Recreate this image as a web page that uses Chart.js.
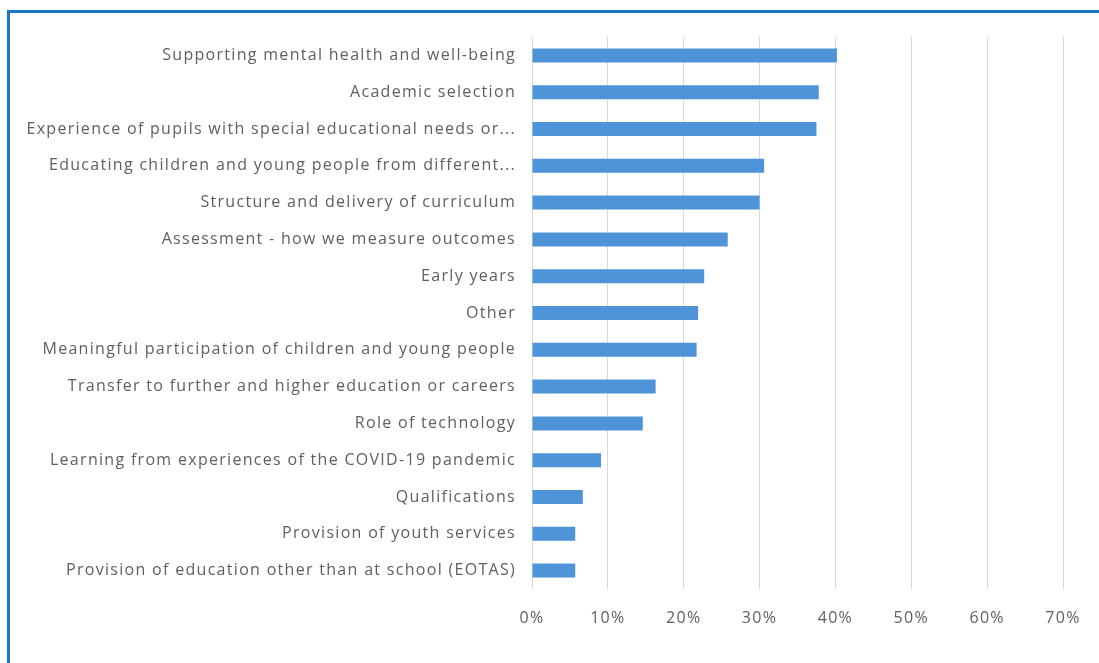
<!DOCTYPE html>
<html>
<head>
<meta charset="utf-8">
<script src="https://cdn.jsdelivr.net/npm/chart.js@4.4.1/dist/chart.umd.min.js"></script>
<style>
  html, body { margin: 0; padding: 0; background: #fff; }
  #wrap { position: relative; width: 1099px; height: 663px; overflow: hidden; }
  #frame { position: absolute; left: 7px; top: 10px; right: -10px; bottom: -10px;
           border-left: 3px solid #1b76c9; border-top: 3px solid #1b76c9; }
  canvas { position: absolute; left: 0; top: 0; }
</style>
</head>
<body>
<div id="wrap">
  <div id="frame"></div>
  <canvas id="chart" width="1099" height="663"></canvas>
</div>
<script>
// Topics, in the order they appear top to bottom
const topics = [
  "Supporting mental health and well-being",
  "Academic selection",
  "Experience of pupils with special educational needs or...",
  "Educating children and young people from different...",
  "Structure and delivery of curriculum",
  "Assessment - how we measure outcomes",
  "Early years",
  "Other",
  "Meaningful participation of children and young people",
  "Transfer to further and higher education or careers",
  "Role of technology",
  "Learning from experiences of the COVID-19 pandemic",
  "Qualifications",
  "Provision of youth services",
  "Provision of education other than at school (EOTAS)"
];

// Share of responses (%)
const shares = [40.2, 37.8, 37.5, 30.6, 30.0, 25.8, 22.7, 21.9, 21.7, 16.3, 14.6, 9.1, 6.7, 5.7, 5.7];

const xMax = 70;
const xStep = 10;

const textColor = "#5f5f5f";
const gridColor = "#d9d9d9";
const barColor = "#4f93d8";
const font = { family: "'Open Sans', sans-serif", size: 16 };

// loosen the letter spacing of all drawn text
const spacing = {
  id: "spacing",
  beforeDraw(chart) { chart.ctx.letterSpacing = "1.3px"; }
};

const ctx = document.getElementById("chart").getContext("2d");
new Chart(ctx, {
  type: "bar",
  data: {
    labels: topics,
    datasets: [{
      data: shares,
      backgroundColor: barColor,
      borderWidth: 0,
      barPercentage: 0.38,
      categoryPercentage: 1
    }]
  },
  plugins: [spacing],
  options: {
    indexAxis: "y",
    responsive: false,
    animation: false,
    layout: { padding: { top: 37, right: 36, bottom: 0, left: 0 } },
    plugins: {
      legend: { display: false },
      tooltip: { enabled: false }
    },
    scales: {
      x: {
        min: 0,
        max: xMax,
        grid: { color: gridColor, lineWidth: 1, drawTicks: false },
        border: { display: false },
        ticks: {
          stepSize: xStep,
          color: textColor,
          font: font,
          padding: 20,
          callback: v => v + "%"
        },
        afterFit: s => { s.height = 74; }
      },
      y: {
        grid: { display: false, drawTicks: false },
        border: { display: false },
        ticks: {
          color: textColor,
          font: font,
          padding: 16,
          autoSkip: false
        },
        afterFit: s => { s.width = 532; }
      }
    }
  }
});
</script>
</body>
</html>
